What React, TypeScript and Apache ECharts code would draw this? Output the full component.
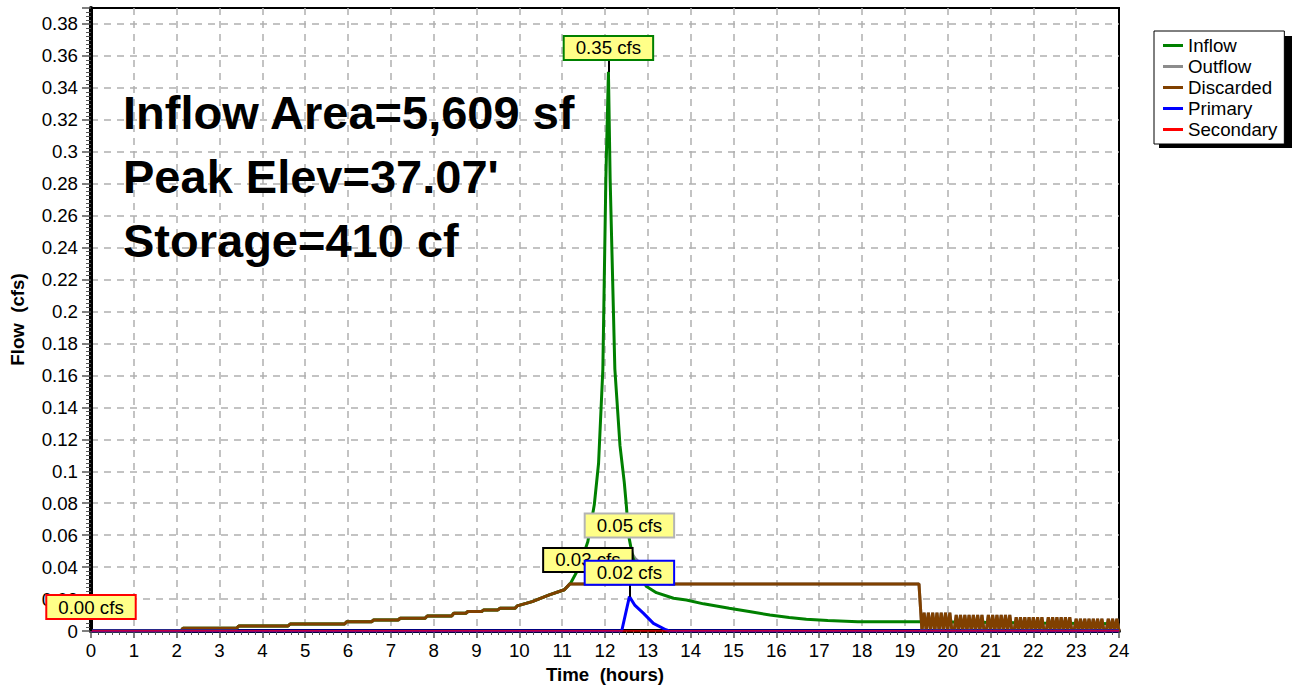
import React, { useEffect, useRef } from "react";
import * as echarts from "echarts";

const FONT = "'Liberation Sans', Arial, Helvetica, sans-serif";
const FS = 18.7;

const seriesNames = ["Inflow", "Outflow", "Discarded", "Primary", "Secondary"];
const seriesColors = ["#008000", "#8c8c8c", "#804000", "#0000ff", "#ff0000"];

// Time (hours), Flow (cfs)
const discardedHead: [number, number][] = [
  [0, 0], [2.1, 0], [2.15, 0.0017], [3.4, 0.0017], [3.45, 0.0031], [4.6, 0.0031],
  [4.65, 0.0044], [5.92, 0.0044], [5.97, 0.0058], [6.55, 0.0058], [6.6, 0.0069],
  [7.17, 0.0069], [7.22, 0.008], [7.8, 0.008], [7.85, 0.0094], [8.42, 0.0094],
  [8.47, 0.0111], [8.75, 0.0111], [8.8, 0.0122], [9.12, 0.0122], [9.17, 0.0132],
  [9.5, 0.0132], [9.55, 0.0142], [9.9, 0.0142], [9.95, 0.0157], [10.3, 0.0184],
  [10.7, 0.0226], [11.05, 0.0258], [11.18, 0.0295], [19.33, 0.0295],
];

// Inflow from 11.05 h onwards (before that it runs under the Discarded line)
const inflowMain: [number, number][] = [
  [11.2, 0.030], [11.4, 0.040],
  [11.6, 0.056], [11.75, 0.079], [11.85, 0.105], [11.95, 0.164], [12.02, 0.283],
  [12.08, 0.35], [12.12, 0.283], [12.23, 0.164], [12.35, 0.116], [12.45, 0.093],
  [12.5, 0.078], [12.55, 0.06], [12.65, 0.046], [12.8, 0.035], [12.97, 0.0278],
  [13.2, 0.024], [13.6, 0.0205], [13.9, 0.0194], [14.3, 0.017], [14.7, 0.0152],
  [14.9, 0.0142], [15.4, 0.012], [15.85, 0.010], [16.3, 0.0085], [16.7, 0.0073],
  [17.2, 0.0065], [17.9, 0.0058], [19.3, 0.0058], [20.0, 0.0056], [22.0, 0.005],
  [24.0, 0.0046],
];

// Discarded after the pond empties, every 0.05 h starting at 19.40 h
const discardedTailStart = 19.4;
const discardedTailStep = 0.05;
const discardedTail: number[] = [
  0, 0.0115, 0, 0.0115, 0, 0.0115, 0, 0.0115, 0, 0.0115, 0, 0.0115, 0, 0.0115, 0,
  0,
  0.010, 0, 0.010, 0, 0.010, 0, 0.010, 0, 0.010, 0, 0.010, 0, 0.010,
  0, 0,
  0.010, 0, 0.010, 0, 0.010, 0, 0.010, 0, 0.010, 0, 0.010, 0,
  0,
  0.0086, 0, 0.0086, 0, 0.0086, 0, 0.0086, 0, 0.0086, 0, 0.0086, 0, 0.0086,
  0, 0,
  0.0086, 0, 0.0086, 0, 0.0086, 0, 0.0086, 0, 0.0086, 0, 0.0086, 0,
  0,
  0.0077, 0, 0.0077, 0, 0.0077, 0, 0.0077, 0, 0.0077, 0, 0.0077, 0, 0.0077,
  0, 0,
  0.0077, 0, 0.0077, 0, 0.0077, 0,
];

const outflowPeak: [number, number][] = [
  [12.38, 0.0295], [12.57, 0.051], [12.7, 0.0455], [12.9, 0.0405],
  [13.13, 0.0343], [13.42, 0.0303], [13.5, 0.0295],
];

const primary: [number, number][] = [
  [0, 0], [12.39, 0], [12.57, 0.0215], [12.7, 0.016], [12.9, 0.011],
  [13.13, 0.0048], [13.42, 0.0008], [13.5, 0], [24, 0],
];

const secondary: [number, number][] = [[0, 0], [24, 0]];

const peakLabels = [
  { text: "0.35 cfs", x: 12.08, y: 0.35, border: "#008000", leader: true },
  { text: "0.05 cfs", x: 12.57, y: 0.051, border: "#b4b4b4", leader: false },
  { text: "0.03 cfs", x: 11.6, y: 0.0295, border: "#000000", leader: false },
  { text: "0.02 cfs", x: 12.57, y: 0.0215, border: "#0000ff", leader: true },
  { text: "0.00 cfs", x: 0, y: 0, border: "#ff0000", leader: true },
];

const infoLines = ["Inflow Area=5,609 sf", "Peak Elev=37.07'", "Storage=410 cf"];

export default function App() {
  const ref = useRef<HTMLDivElement>(null);

  useEffect(() => {
    if (!ref.current) return;
    const chart = echarts.init(ref.current, undefined, { renderer: "svg" });

    const discarded: [number, number][] = [
      ...discardedHead,
      ...discardedTail.map((v, i): [number, number] => [
        Math.round((discardedTailStart + i * discardedTailStep) * 100) / 100,
        v,
      ]),
    ];
    const inflow: [number, number][] = [
      ...discardedHead.filter((p) => p[0] <= 11.05),
      ...inflowMain,
    ];
    const outflow: [number, number][] = [
      ...discarded.filter((p) => p[0] <= 12.35),
      ...outflowPeak,
      ...discarded.filter((p) => p[0] > 13.5),
    ];
    const dataByName: Record<string, [number, number][]> = {
      Inflow: inflow,
      Outflow: outflow,
      Discarded: discarded,
      Primary: primary,
      Secondary: secondary,
    };
    const drawOrder = ["Outflow", "Inflow", "Discarded", "Primary", "Secondary"];

    const lineSeries = drawOrder.map((name) => {
      const idx = seriesNames.indexOf(name);
      return {
        name,
        type: "line",
        data: dataByName[name],
        showSymbol: false,
        symbol: "none",
        color: seriesColors[idx],
        lineStyle: { color: seriesColors[idx], width: name === "Secondary" ? 1.5 : 3 },
        z: 3,
        silent: true,
      };
    });

    const gridLine = { color: "#b0b0b0", width: 1.5, type: [7, 6] };

    const option: any = {
      animation: false,
      textStyle: { fontFamily: FONT },
      grid: {
        left: 91,
        right: 175,
        top: 8,
        bottom: 55,
        containLabel: false,
        outerBoundsMode: "none",
        show: true,
        borderColor: "#000",
        borderWidth: 2,
        backgroundColor: "#fff",
      },
      legend: {
        data: seriesNames,
        orient: "vertical",
        left: 1154,
        top: 31,
        padding: [5, 7, 5, 9],
        itemGap: 2,
        itemWidth: 20,
        itemHeight: 3,
        icon: "rect",
        backgroundColor: "#fff",
        borderColor: "#000",
        borderWidth: 1,
        selectedMode: false,
        textStyle: { fontSize: FS, fontFamily: FONT, color: "#000" },
        z: 10,
      },
      xAxis: {
        type: "value",
        min: 0,
        max: 24,
        interval: 1,
        name: "Time  (hours)",
        nameLocation: "middle",
        nameGap: 34,
        nameTextStyle: { fontSize: FS, fontWeight: "bold", color: "#000", fontFamily: FONT },
        axisLine: { show: true, onZero: false, lineStyle: { color: "#000", width: 4 } },
        axisTick: { show: true, length: 7, lineStyle: { color: "#555", width: 1.5 } },
        minorTick: { show: true, splitNumber: 6, length: 4, lineStyle: { color: "#555", width: 1 } },
        axisLabel: { fontSize: FS, color: "#000", margin: 10, fontFamily: FONT },
        splitLine: { show: true, showMinLine: false, showMaxLine: false, lineStyle: gridLine },
      },
      yAxis: {
        type: "value",
        min: 0,
        max: 0.39,
        interval: 0.02,
        name: "Flow  (cfs)",
        nameLocation: "middle",
        nameGap: 64,
        nameTextStyle: { fontSize: FS, fontWeight: "bold", color: "#000", fontFamily: FONT },
        axisLine: { show: true, onZero: false, lineStyle: { color: "#000", width: 4 } },
        axisTick: { show: true, length: 9, lineStyle: { color: "#555", width: 1.5 } },
        minorTick: { show: true, splitNumber: 8, length: 5, lineStyle: { color: "#555", width: 1 } },
        axisLabel: {
          fontSize: FS,
          color: "#000",
          margin: 13,
          fontFamily: FONT,
          showMaxLabel: false,
          formatter: (v: number) => {
            const r = Math.round(v * 100) / 100;
            if (Math.abs(r / 0.02 - Math.round(r / 0.02)) > 1e-6) return "";
            return String(r);
          },
        },
        splitLine: { show: true, showMinLine: false, showMaxLine: false, lineStyle: gridLine },
      },
      graphic: [
        {
          type: "rect",
          shape: { x: 1159, y: 36, width: 133, height: 112 },
          style: { fill: "#000" },
          z: 1,
          silent: true,
        },
        ...infoLines.map((t, i) => ({
          type: "text",
          x: 123,
          y: 112 + i * 64,
          z: 2,
          silent: true,
          style: {
            text: t,
            fontSize: 47,
            fontWeight: "bold",
            fontFamily: FONT,
            fill: "#000",
            verticalAlign: "middle",
          },
        })),
      ],
      series: [
        ...lineSeries,
        {
          name: "__labels",
          type: "line",
          data: [],
          z: 10,
          silent: true,
          markLine: {
            silent: true,
            symbol: "none",
            label: { show: false },
            lineStyle: { color: "#000", width: 2, type: "solid" },
            data: peakLabels
              .filter((l) => l.leader)
              .map((l) => [{ coord: [l.x, l.y] }, { coord: [l.x, l.y + 0.0075] }]),
          },
          markPoint: {
            silent: true,
            symbol: "circle",
            symbolSize: 1,
            itemStyle: { color: "rgba(0,0,0,0)" },
            data: peakLabels.map((l) => ({
              coord: [l.x, l.y],
              label: {
                show: true,
                position: "inside",
                offset: [0, -24],
                formatter: l.text,
                color: "#000",
                fontSize: FS,
                lineHeight: 19,
                fontFamily: FONT,
                backgroundColor: "#ffff88",
                borderColor: l.border,
                borderWidth: 2,
                padding: [2, 11, 1, 11],
              },
            })),
          },
        },
      ],
    };

    chart.setOption(option);
    return () => chart.dispose();
  }, []);

  return (
    <div
      ref={ref}
      style={{ position: "fixed", left: 0, top: 0, width: 1294, height: 686, background: "#fff" }}
    />
  );
}
